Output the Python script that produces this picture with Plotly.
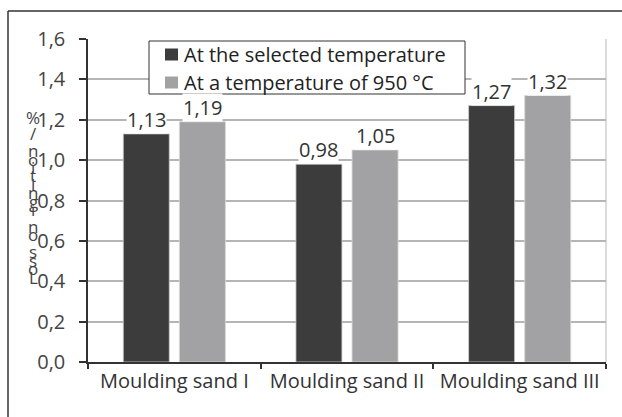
import plotly.graph_objects as go

categories = ["Moulding sand I", "Moulding sand II", "Moulding sand III"]
selected = [1.13, 0.98, 1.27]
at950 = [1.19, 1.05, 1.32]
series_names = ["At the selected temperature", "At a temperature of 950 °C"]
series_colors = ["#3c3c3c", "#a2a2a4"]
y_title = "Loss on ignition / %"

FONT = "Open Sans"
L, R, T, B = 88, 16, 39, 55
W, H = 622, 417
PW, PH = W - L - R, H - T - B

def px_x(px):
    return (px - L) / PW

def px_y(py):
    return (H - B - py) / PH

fig = go.Figure()
fig.add_trace(go.Bar(x=categories, y=selected, name=series_names[0],
                     marker=dict(color=series_colors[0], line=dict(color="#cfcfcf", width=0.8))))
fig.add_trace(go.Bar(x=categories, y=at950, name=series_names[1],
                     marker=dict(color=series_colors[1], line=dict(color="#d8d8d8", width=0.8))))

# value labels with white background
bargap, bgg = 0.35, 0.18
cat_w = PW / len(categories)
slot = cat_w * (1 - bargap) / 2
annotations = []
for vals, shift in ((selected, -slot / 2), (at950, slot / 2)):
    for c, v in zip(categories, vals):
        annotations.append(dict(x=c, y=v, xref="x", yref="y", text=f"{v:.2f}".replace(".", ","),
                                showarrow=False, xshift=shift, yshift=0, yanchor="bottom",
                                bgcolor="white", borderpad=0,
                                font=dict(family=FONT, size=20, color="#333333")))

# vertically stacked y-axis title characters
chars = list(y_title)
n = len(chars)
y_bot, y_top = 277, 117
for i, ch in enumerate(chars):
    if ch == " ":
        continue
    py = y_bot - i * (y_bot - y_top) / (n - 1)
    annotations.append(dict(x=px_x(33), y=px_y(py), xref="paper", yref="paper", text=ch,
                            showarrow=False, xanchor="center", yanchor="middle",
                            font=dict(family=FONT, size=17, color="#444444")))

shapes = [
    dict(type="line", xref="paper", yref="paper", x0=px_x(8), x1=px_x(8), y0=px_y(11), y1=px_y(425),
         line=dict(color="#333333", width=1.5)),
    dict(type="line", xref="paper", yref="paper", x0=px_x(8), x1=px_x(630), y0=px_y(11), y1=px_y(11),
         line=dict(color="#333333", width=1.5)),
    dict(type="line", xref="paper", yref="paper", x0=1, x1=1, y0=0, y1=1,
         line=dict(color="#d0d0d0", width=1.5), layer="below"),
]

# legend box (drawn as shapes + text so row spacing matches the reference)
shapes.append(dict(type="rect", xref="paper", yref="paper",
                   x0=px_x(149), x1=px_x(465), y0=px_y(94), y1=px_y(41),
                   fillcolor="white", line=dict(color="#333333", width=1), layer="above"))
rows_y = [54.5, 82.5]
for name, col, ry in zip(series_names, series_colors, rows_y):
    shapes.append(dict(type="rect", xref="paper", yref="paper",
                       x0=px_x(165), x1=px_x(178), y0=px_y(ry + 6), y1=px_y(ry - 6),
                       fillcolor=col, line=dict(width=0), layer="above"))
    annotations.append(dict(x=px_x(182), y=px_y(ry), xref="paper", yref="paper", text=name,
                            showarrow=False, xanchor="left", yanchor="middle",
                            font=dict(family=FONT, size=20, color="#222222")))

fig.update_layout(
    width=W, height=H,
    margin=dict(l=L, r=R, t=T, b=B),
    paper_bgcolor="white", plot_bgcolor="white",
    barmode="group", bargap=bargap, bargroupgap=bgg,
    separators=", ",
    font=dict(family=FONT, size=20, color="#333333"),
    showlegend=False,
    annotations=annotations,
    shapes=shapes,
    xaxis=dict(showline=True, linecolor="#333333", linewidth=1.5,
               ticks="outside", ticklen=5, tickcolor="#333333", tickwidth=1.5,
               tickson="boundaries", showgrid=False,
               tickfont=dict(family=FONT, size=20, color="#333333")),
    yaxis=dict(range=[0, 1.6], dtick=0.2, tickformat=".1f",
               showline=True, linecolor="#333333", linewidth=1.5,
               ticks="outside", ticklen=7, tickcolor="#333333", tickwidth=1.5,
               showgrid=True, gridcolor="#b5b5b5", gridwidth=1.5,
               zeroline=False, ticklabelstandoff=10,
               tickfont=dict(family=FONT, size=20, color="#444444")),
)

fig.write_html("out.html")
